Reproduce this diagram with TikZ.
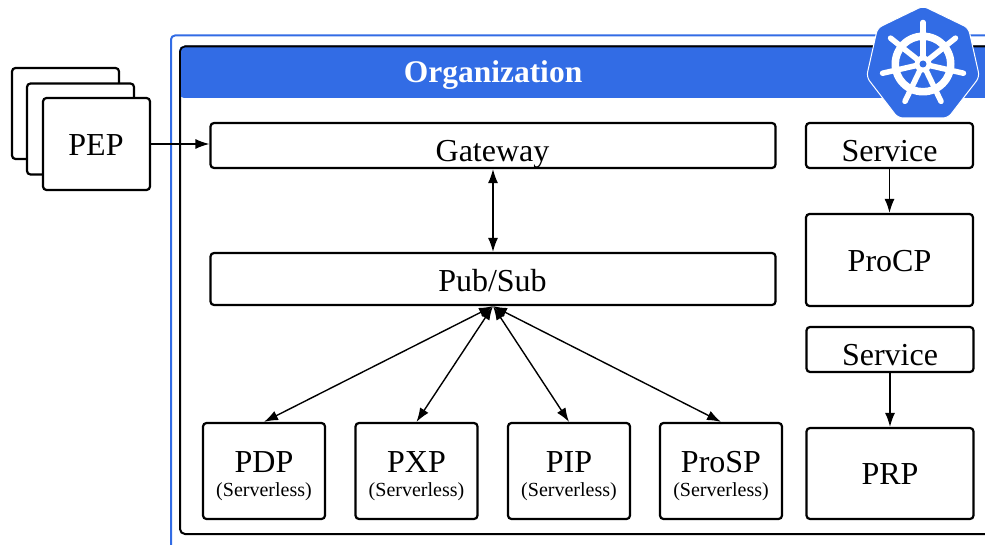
\documentclass[tikz,border=0pt]{standalone}
\usepackage{fontspec}
\setmainfont{Liberation Serif}
\usetikzlibrary{arrows.meta}
\definecolor{kblue}{HTML}{326CE5}
\tikzset{
  box/.style={draw=black,line width=2.2pt,rounded corners=3.5pt,fill=white,inner sep=0pt},
  lab/.style={font=\fontsize{32}{34}\selectfont,inner sep=0pt,anchor=base},
  sublab/.style={font=\fontsize{20}{22}\selectfont,inner sep=0pt,anchor=base},
  link/.style={line width=1.4pt,-{Latex[length=14pt,width=10pt]}},
  dlink/.style={line width=1.4pt,{Latex[length=14pt,width=10pt]}-{Latex[length=14pt,width=10pt]}},
}
\begin{document}
\begin{tikzpicture}[x=1pt,y=-1pt]
\useasboundingbox (0,0) rectangle (985,545);
\clip (0,0) rectangle (985,545);
% frames
\draw[kblue,line width=2pt,rounded corners=4pt] (171,560) -- (171,35.5) -- (1000,35.5);
\draw[black,line width=2pt,rounded corners=5pt,fill=white] (1000,46.5) -- (180,46.5) -- (180,534) -- (1000,534);
\fill[kblue,rounded corners=5pt] (179,46) -- (179,98) -- (1000,98) -- (1000,46) -- cycle;
\draw[black,line width=1.6pt,rounded corners=5pt] (180,98) -- (180,46.5) -- (1000,46.5);
\node[text=white,font=\fontsize{31.5}{33}\selectfont\bfseries,inner sep=0pt,anchor=base] (org) at (493,83) {Organization};
% logo
\fill[kblue,draw=white,line width=1pt,line join=round,rounded corners=5pt]
 (923,6) -- (968.5,28) -- (979.5,77) -- (948,118) -- (898,118) -- (866.5,77) -- (877.5,28) -- cycle;
\begin{scope}[shift={(923,64)}]
 \fill[white,even odd rule] (0,0) circle[radius=31.5] (0,0) circle[radius=24];
 \foreach \a in {90,141.43,192.86,244.29,295.71,347.14,38.57}{
   \draw[white,line width=5.5pt,line cap=round] (0,0) -- ({-\a}:41.5);
 }
 \fill[white] (0,0) circle[radius=8.5];
 \fill[kblue] (0,0) circle[radius=3.5];
\end{scope}
% PEP
\node[box,minimum width=107pt,minimum height=91pt] (pepc) at (65.5,113.5) {};
\node[box,minimum width=107pt,minimum height=91pt] (pepb) at (80.5,129) {};
\node[box,minimum width=107pt,minimum height=92pt] (pep) at (96.5,144) {};
\node[lab] (pept) at (96,156) {PEP};
% main
\node[box,minimum width=565pt,minimum height=45pt] (gw) at (493,145.5) {};
\node[lab] (gwt) at (492.5,162) {Gateway};
\node[box,minimum width=565pt,minimum height=52pt] (ps) at (493,279) {};
\node[lab] (pst) at (492.5,292) {Pub/Sub};
\node[box,minimum width=167pt,minimum height=45pt] (s1) at (889.5,145.5) {};
\node[lab] (s1t) at (889.5,162) {Service};
\node[box,minimum width=167pt,minimum height=92pt] (pro) at (889.5,260) {};
\node[lab] (prot) at (889.5,271.5) {ProCP};
\node[box,minimum width=167pt,minimum height=45pt] (s2) at (890,349.5) {};
\node[lab] (s2t) at (890,365.5) {Service};
\node[box,minimum width=167pt,minimum height=91pt] (prp) at (890,473.5) {};
\node[lab] (prpt) at (890,484.5) {PRP};
\foreach \n/\t/\x in {pdp/PDP/264,pxp/PXP/416.5,pip/PIP/569,psp/ProSP/721}{
 \node[box,minimum width=122pt,minimum height=96pt] (\n) at (\x,471) {};
 \node[lab] (\n t) at (\x,472) {\t};
 \node[sublab] (\n s) at (\x,496) {(Serverless)};
}
% links
\draw[link] (pep.east) -- (pep.east -| gw.west);
\draw[dlink] (gw.south) -- (ps.north);
\draw[link] (s1.south) -- (pro.north);
\draw[link] (s2.south) -- (prp.north);
\foreach \n in {pdp,pxp,pip,psp}{ \draw[dlink] (ps.south) -- (\n.north); }
\end{tikzpicture}
\end{document}
